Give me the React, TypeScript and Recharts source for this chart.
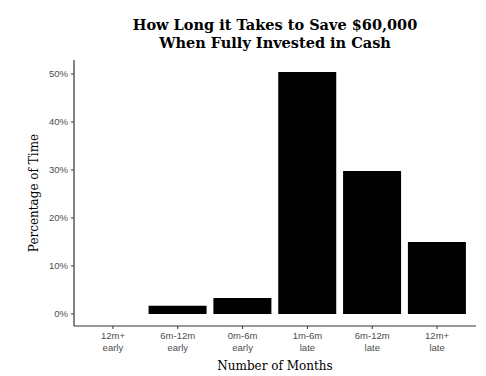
import React from 'react';
import { BarChart, Bar, XAxis, YAxis, Label } from 'recharts';

const categories = ['12m+\nearly', '6m-12m\nearly', '0m-6m\nearly', '1m-6m\nlate', '6m-12m\nlate', '12m+\nlate'];
const percentages = [0, 1.7, 3.3, 50.4, 29.8, 15.0];
const yTicks = [0, 10, 20, 30, 40, 50];

const data = categories.map((c, i) => ({ name: c, value: percentages[i] }));

const XTick = (props: any) => {
  const { x, y, payload } = props;
  const lines = String(payload.value).split('\n');
  return (
    <g transform={`translate(${x},${y})`}>
      <text textAnchor="middle" fill="#4d4d4d" fontSize={9.5} fontFamily="'Liberation Sans', Arial, sans-serif">
        {lines.map((l, i) => (
          <tspan key={i} x={0} dy={i === 0 ? 8 : 11.5}>{l}</tspan>
        ))}
      </text>
    </g>
  );
};

export default function App() {
  return (
    <div style={{ position: 'absolute', left: 0, top: 0, width: 486, height: 376, background: '#fff' }}>
      <div style={{ position: 'absolute', left: 74, width: 402, top: 16, textAlign: 'center', fontFamily: "'DejaVu Serif', serif", fontWeight: 'bold', fontSize: 14.5, lineHeight: '18px', color: '#000' }}>
        How Long it Takes to Save $60,000<br />When Fully Invested in Cash
      </div>
      <BarChart width={486} height={376} data={data} margin={{ top: 60, right: 10, bottom: 20, left: 34 }} barCategoryGap="5%">
        <XAxis
          dataKey="name"
          interval={0}
          padding={{ left: 6.5, right: 6.5 }}
          tick={<XTick />}
          tickLine={{ stroke: '#333', strokeWidth: 1 }}
          tickSize={3}
          axisLine={{ stroke: '#333', strokeWidth: 1.2 }}
          height={30}
        >
          <Label
            value="Number of Months"
            position="insideBottom"
            offset={-14}
            style={{ fontFamily: "'DejaVu Serif', 'Liberation Serif', serif", fontSize: 12, fill: '#000' }}
          />
        </XAxis>
        <YAxis
          type="number"
          domain={[-2.52, 52.92]}
          ticks={yTicks}
          tickFormatter={(v: number) => `${v}%`}
          tick={{ fill: '#4d4d4d', fontSize: 9.5, fontFamily: "'Liberation Sans', Arial, sans-serif" }}
          tickLine={{ stroke: '#333', strokeWidth: 1 }}
          tickSize={3}
          tickMargin={3}
          axisLine={{ stroke: '#333', strokeWidth: 1.2 }}
          width={40}
          allowDataOverflow
        >
          <Label
            value="Percentage of Time"
            angle={-90}
            position="insideLeft"
            offset={0}
            style={{ textAnchor: 'middle', fontFamily: "'DejaVu Serif', 'Liberation Serif', serif", fontSize: 12, fill: '#000' }}
          />
        </YAxis>
        <Bar dataKey="value" fill="#000" isAnimationActive={false} />
      </BarChart>
    </div>
  );
}
